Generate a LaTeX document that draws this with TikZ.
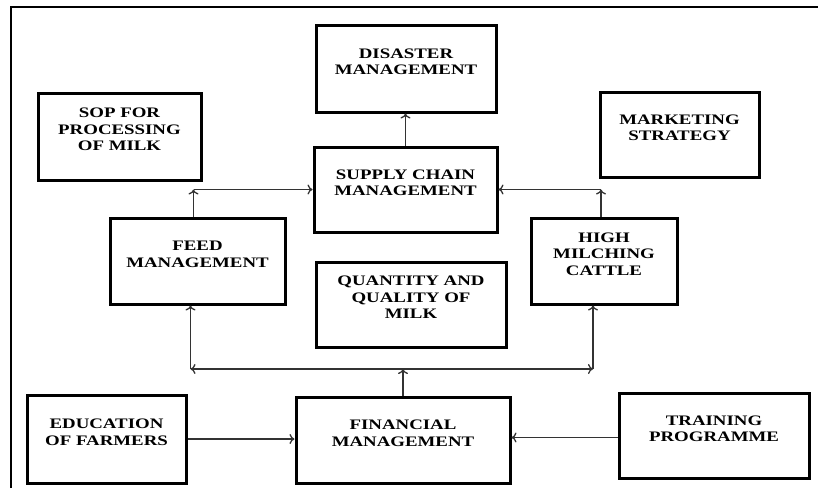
\documentclass[tikz,border=0pt]{standalone}
\usepackage{fontspec}
\newfontfamily\boxfont[FakeStretch=1.3]{Liberation Serif}
\usetikzlibrary{positioning,arrows.meta}

\tikzstyle{block} = [draw=black, line width=3pt, rectangle, align=center,
  font=\boxfont\bfseries\fontsize{14.5}{16.5}\selectfont,
  inner sep=2pt, text depth=14pt]
\tikzstyle{link} = [-{To[length=5pt,width=10pt]}, draw=black!80, line width=1.3pt]

\begin{document}
\begin{tikzpicture}[x=1pt, y=-1pt]
        \useasboundingbox (0,0) rectangle (818,488);
        \draw[line width=2pt] (11,488) -- (11,7) -- (818,7);

        \node [block, minimum width=163, minimum height=87] (sop)        at (119.5,136.5) {SOP FOR\\PROCESSING\\OF MILK};
        \node [block, minimum width=180, minimum height=87] (disaster)   at (406,68.5)    {DISASTER\\MANAGEMENT};
        \node [block, minimum width=183, minimum height=85] (supply)     at (405.5,189.5) {SUPPLY CHAIN\\MANAGEMENT};
        \node [block, minimum width=159, minimum height=85] (marketing)  at (679.5,134.5) {MARKETING\\STRATEGY};
        \node [block, minimum width=175, minimum height=86] (feed)       at (197.5,261)   {FEED\\MANAGEMENT};
        \node [block, minimum width=146, minimum height=86] (cattle)     at (604,261)     {HIGH\\MILCHING\\CATTLE};
        \node [block, minimum width=190, minimum height=85] (quality)    at (411,304.5)   {QUANTITY AND\\QUALITY OF\\MILK};
        \node [block, minimum width=159, minimum height=88] (education)  at (106.5,439)   {EDUCATION\\OF FARMERS};
        \node [block, minimum width=214, minimum height=86] (financial)  at (403,440)     {FINANCIAL\\MANAGEMENT};
        \node [block, minimum width=190, minimum height=85] (training)   at (714,435.5)   {TRAINING\\PROGRAMME};

        \coordinate (hub) at (financial.north |- 0,369);

        \draw[link] (supply.north) -- (supply.north |- disaster.south);
        \draw[link] ([xshift=-4]feed.north) -- ([xshift=-4]feed.north |- supply.west);
        \draw[link] ([xshift=-4]feed.north |- supply.west) -- (supply.west);
        \draw[link] ([xshift=-3]cattle.north) -- ([xshift=-3]cattle.north |- supply.east);
        \draw[link] ([xshift=-3]cattle.north |- supply.east) -- (supply.east);

        \draw[link] (financial.north) -- (hub);
        \draw[link] (hub) -- ([xshift=-7]feed.south |- hub);
        \draw[link] ([xshift=-7]feed.south |- hub) -- ([xshift=-7]feed.south);
        \draw[link] (hub) -- ([xshift=-11]cattle.south |- hub);
        \draw[link] ([xshift=-11]cattle.south |- hub) -- ([xshift=-11]cattle.south);

        \draw[link] (education.east) -- (education.east -| financial.west);
        \draw[link] ([yshift=-2]training.west) -- ([yshift=-2]training.west -| financial.east);
      \end{tikzpicture}
\end{document}
